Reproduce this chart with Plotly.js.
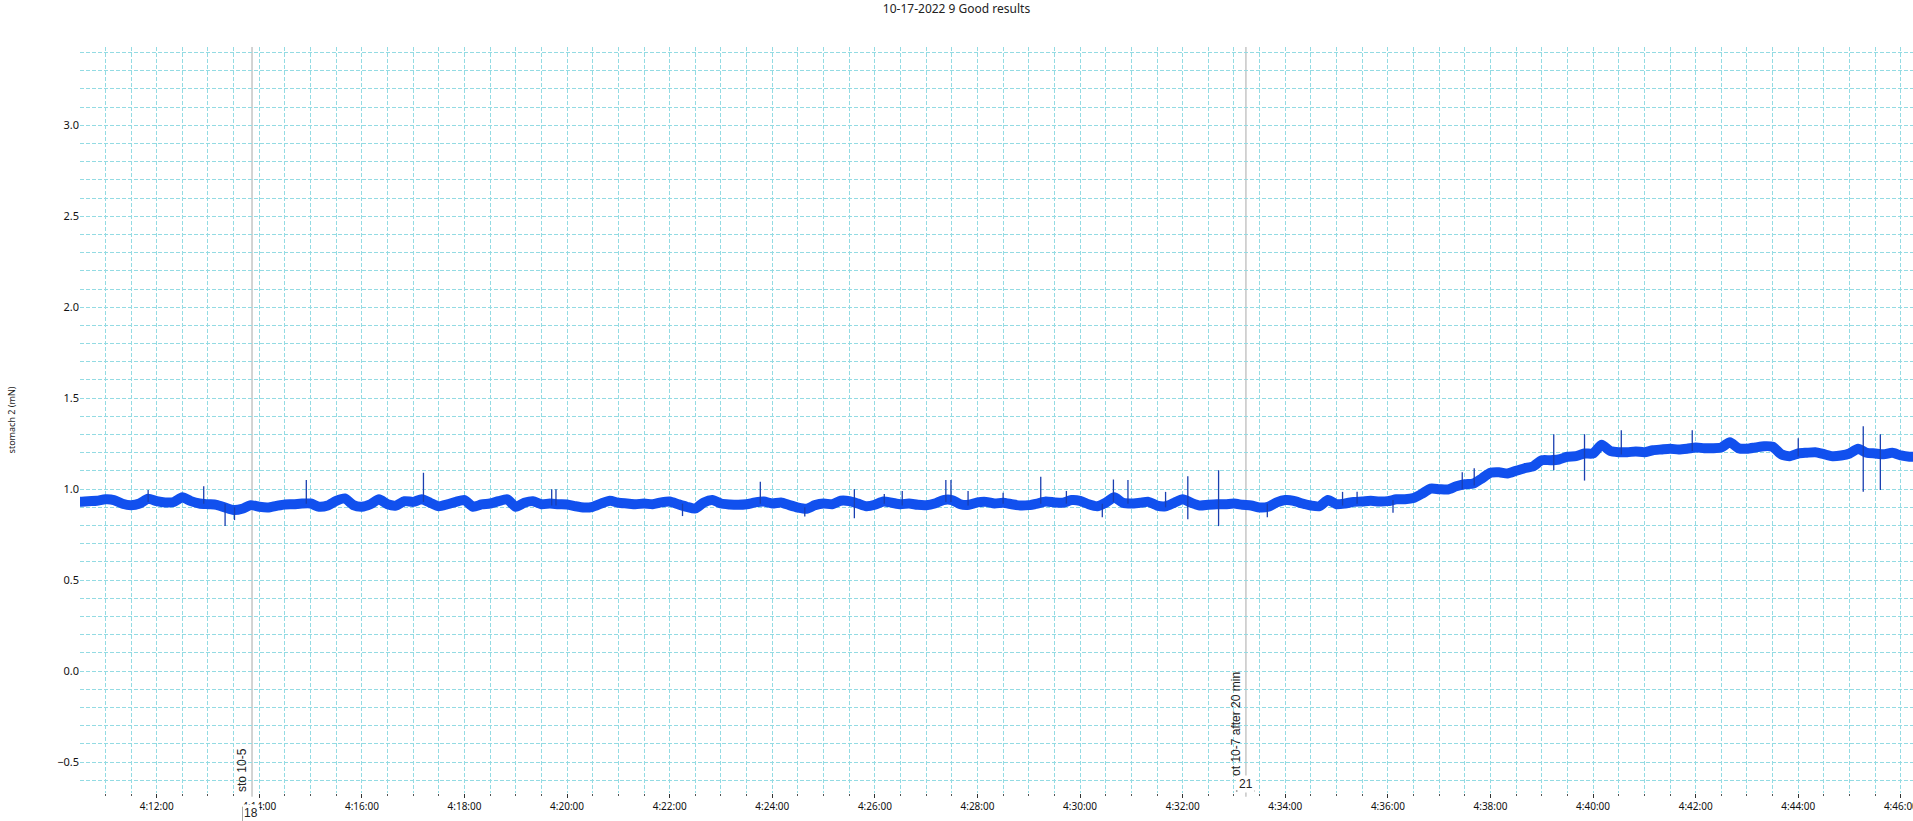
<!DOCTYPE html>
<html>
<head>
<meta charset="utf-8">
<script src="https://cdn.plot.ly/plotly-3.0.1.min.js"></script>
<style>html,body{margin:0;padding:0;background:#fff;overflow:hidden;}#chart{width:1913px;height:821px;}</style>
</head>
<body>
<div id="chart"></div>
<script>
// ---- data (seconds after 4:10:00, force in mN) ----
const sampleStartSec = 20;   // first sample time
const sampleStepSec = 10;    // sampling interval of the read-off trace
const forceValues = [
0.930,0.930,0.934,0.936,0.944,0.940,0.920,0.912,0.921,0.947,
0.934,0.927,0.929,0.955,0.934,0.921,0.917,0.914,0.899,0.885,
0.892,0.912,0.903,0.899,0.908,0.916,0.917,0.921,0.921,0.903,
0.910,0.936,0.949,0.912,0.903,0.917,0.944,0.917,0.910,0.934,
0.930,0.944,0.925,0.906,0.917,0.930,0.940,0.903,0.916,0.921,
0.934,0.944,0.903,0.925,0.934,0.917,0.921,0.917,0.916,0.906,
0.899,0.903,0.921,0.936,0.925,0.921,0.917,0.921,0.917,0.927,
0.932,0.917,0.903,0.894,0.927,0.940,0.921,0.916,0.914,0.917,
0.927,0.932,0.921,0.927,0.912,0.899,0.892,0.912,0.921,0.917,
0.936,0.934,0.921,0.906,0.914,0.932,0.925,0.917,0.921,0.914,
0.912,0.921,0.940,0.940,0.917,0.914,0.927,0.930,0.921,0.925,
0.917,0.910,0.912,0.921,0.932,0.927,0.925,0.940,0.936,0.917,
0.906,0.925,0.955,0.925,0.921,0.925,0.930,0.910,0.906,0.925,
0.944,0.925,0.910,0.914,0.917,0.917,0.921,0.914,0.910,0.899,
0.903,0.927,0.940,0.936,0.921,0.910,0.906,0.940,0.917,0.921,
0.930,0.932,0.936,0.932,0.934,0.944,0.944,0.951,0.975,1.003,
1.000,0.998,1.016,1.027,1.031,1.059,1.090,1.093,1.086,1.101,
1.115,1.126,1.159,1.159,1.163,1.178,1.181,1.196,1.196,1.244,
1.210,1.203,1.203,1.207,1.203,1.214,1.218,1.222,1.218,1.222,
1.229,1.225,1.225,1.229,1.258,1.225,1.222,1.229,1.236,1.233,
1.192,1.181,1.196,1.200,1.203,1.192,1.181,1.185,1.196,1.222,
1.200,1.196,1.192,1.200,1.185,1.178,1.178
];

// short artefact spikes: time (s after 4:10:00), top and bottom value
const spikeSec = [110,175,200,211,295,432,582,587,735,826,878,936,971,992,1043,1049,1069,1110,1154,1184,1226,1239,1256,1300,1326,1362,1419,1507,1524,1566,1647,1661,1754,1790,1833,1916,2040,2116,2136];
const spikeHi  = [0.995,1.016,0.920,0.900,1.050,1.090,1.000,1.000,0.920,1.040,0.900,1.000,0.973,0.990,1.050,1.050,0.990,0.980,1.068,0.990,0.920,1.053,1.050,0.985,1.071,1.104,0.920,0.985,0.985,0.940,1.093,1.115,1.302,1.302,1.324,1.324,1.280,1.346,1.302];
const spikeLo  = [0.930,0.920,0.797,0.830,0.920,0.930,0.910,0.910,0.852,0.920,0.850,0.840,0.920,0.910,0.930,0.930,0.910,0.920,0.920,0.920,0.846,0.930,0.920,0.900,0.834,0.797,0.846,0.910,0.920,0.870,1.000,1.020,1.104,1.047,1.190,1.210,1.180,0.985,0.995];

// event markers
const markerSec = [231.5, 1394];
const markerText = ['sto 10-5', 'ot 10-7 after 20 min'];
const markerNum = ['18', '21'];

// axis extents
const xRangeSec = [30.3, 2174.2];
const yRange = [-0.67, 3.43];
const chartTitle = '10-17-2022 9 Good results';
const yTitle = 'stomach 2 (mN)';

// ---- helpers ----
function pad(n){ return (n < 10 ? '0' : '') + n; }
function toDate(sec){
  const total = 4*3600 + 10*60 + sec;
  const h = Math.floor(total/3600);
  const m = Math.floor((total % 3600)/60);
  const s = total - h*3600 - m*60;
  return '2022-10-17 ' + pad(h) + ':' + pad(m) + ':' + (s < 10 ? '0' : '') + s.toFixed(3);
}

const traceX = forceValues.map((v, i) => toDate(sampleStartSec + i*sampleStepSec));

const spX = [], spY = [];
spikeSec.forEach((s, i) => {
  spX.push(toDate(s), toDate(s), null);
  spY.push(spikeLo[i], spikeHi[i], null);
});

const band = {
  x: traceX, y: forceValues, type: 'scatter', mode: 'lines',
  line: {color: '#1150ee', width: 10, shape: 'spline', smoothing: 0.6}, hoverinfo: 'skip', showlegend: false
};
const spikes = {
  x: spX, y: spY, type: 'scatter', mode: 'lines',
  line: {color: '#1a3fb0', width: 1.3}, hoverinfo: 'skip', showlegend: false, connectgaps: false
};

const gridCol = '#93dbe3';
const shapes = [];
const annotations = [];
markerSec.forEach((s, i) => {
  shapes.push({type: 'line', layer: 'between', xref: 'x', yref: 'paper',
    x0: toDate(s), x1: toDate(s), y0: -0.005, y1: 1,
    line: {color: '#a9a9a9', width: 1}});
});
// marker 1 label
annotations.push({xref: 'x', yref: 'paper', x: toDate(markerSec[0]), y: 0,
  xanchor: 'right', yanchor: 'bottom', xshift: -1, yshift: -1, textangle: -90, showarrow: false,
  text: markerText[0], font: {family: 'Liberation Sans, Arial, sans-serif', size: 12, color: '#222'}});
annotations.push({xref: 'x', yref: 'paper', x: toDate(markerSec[0]), y: 0,
  xanchor: 'center', yanchor: 'middle', xshift: -1, yshift: -20, showarrow: false, bgcolor: '#ffffff',
  text: markerNum[0], font: {family: 'Liberation Sans, Arial, sans-serif', size: 12, color: '#222'}});
shapes.push({type: 'line', xref: 'x', yref: 'paper', xsizemode: 'pixel', ysizemode: 'pixel',
  xanchor: toDate(markerSec[0]), yanchor: 0, x0: -9.5, x1: -9.5, y0: -14, y1: -30,
  line: {color: '#555', width: 1}});
// marker 2 label
annotations.push({xref: 'x', yref: 'paper', x: toDate(markerSec[1]), y: 0,
  xanchor: 'right', yanchor: 'bottom', xshift: -1, yshift: 15, textangle: -90, showarrow: false,
  text: markerText[1], font: {family: 'Liberation Sans, Arial, sans-serif', size: 12, color: '#222'}});
annotations.push({xref: 'x', yref: 'paper', x: toDate(markerSec[1]), y: 0,
  xanchor: 'center', yanchor: 'middle', xshift: 0, yshift: 9, showarrow: false, bgcolor: '#ffffff',
  text: markerNum[1], font: {family: 'Liberation Sans, Arial, sans-serif', size: 12, color: '#222'}});
shapes.push({type: 'line', xref: 'x', yref: 'paper', xsizemode: 'pixel', ysizemode: 'pixel',
  xanchor: toDate(markerSec[1]), yanchor: 0, x0: -10, x1: 9, y0: 2, y1: 2,
  line: {color: '#555', width: 1}});

const layout = {
  width: 1913, height: 821,
  margin: {l: 80, r: 0, t: 47, b: 28, pad: 0},
  paper_bgcolor: '#ffffff', plot_bgcolor: '#ffffff',
  showlegend: false,
  title: {text: chartTitle, x: 0.5, xref: 'container', xanchor: 'center',
    y: 0.989, yref: 'container', yanchor: 'middle',
    font: {family: 'Noto Sans, Open Sans, sans-serif', size: 12, color: '#222'}},
  xaxis: {
    type: 'date', range: [toDate(xRangeSec[0]), toDate(xRangeSec[1])],
    tick0: '2022-10-17 04:00:00', dtick: 120000, tickformat: '%-H:%M:%S',
    ticks: 'outside', ticklen: 4, tickcolor: '#333', tickwidth: 1,
    ticklabeloverflow: 'allow',
    tickfont: {family: 'Noto Sans, Open Sans, sans-serif', size: 10, color: '#111'},
    showgrid: true, gridcolor: gridCol, griddash: '4px,2px', gridwidth: 1,
    minor: {dtick: 30000, tick0: '2022-10-17 04:00:00', showgrid: true, gridcolor: gridCol,
      griddash: '4px,2px', gridwidth: 1, ticks: 'outside', ticklen: 2, tickcolor: '#555'},
    zeroline: false, showline: false, fixedrange: true
  },
  yaxis: {
    range: yRange, tick0: 0, dtick: 0.5, tickformat: '.1f',
    ticks: '', tickfont: {family: 'Noto Sans, Open Sans, sans-serif', size: 11, color: '#111'},
    showgrid: true, gridcolor: gridCol, griddash: '4px,2px', gridwidth: 1,
    minor: {dtick: 0.1, tick0: 0, showgrid: true, gridcolor: gridCol, griddash: '4px,2px', gridwidth: 1},
    zeroline: false, showline: false, automargin: false,
    title: {text: yTitle, standoff: 40, font: {family: 'Noto Sans, Open Sans, sans-serif', size: 9, color: '#222'}}
  },
  shapes: shapes,
  annotations: annotations
};

Plotly.newPlot('chart', [band, spikes], layout, {staticPlot: true, displayModeBar: false});
</script>
</body>
</html>
